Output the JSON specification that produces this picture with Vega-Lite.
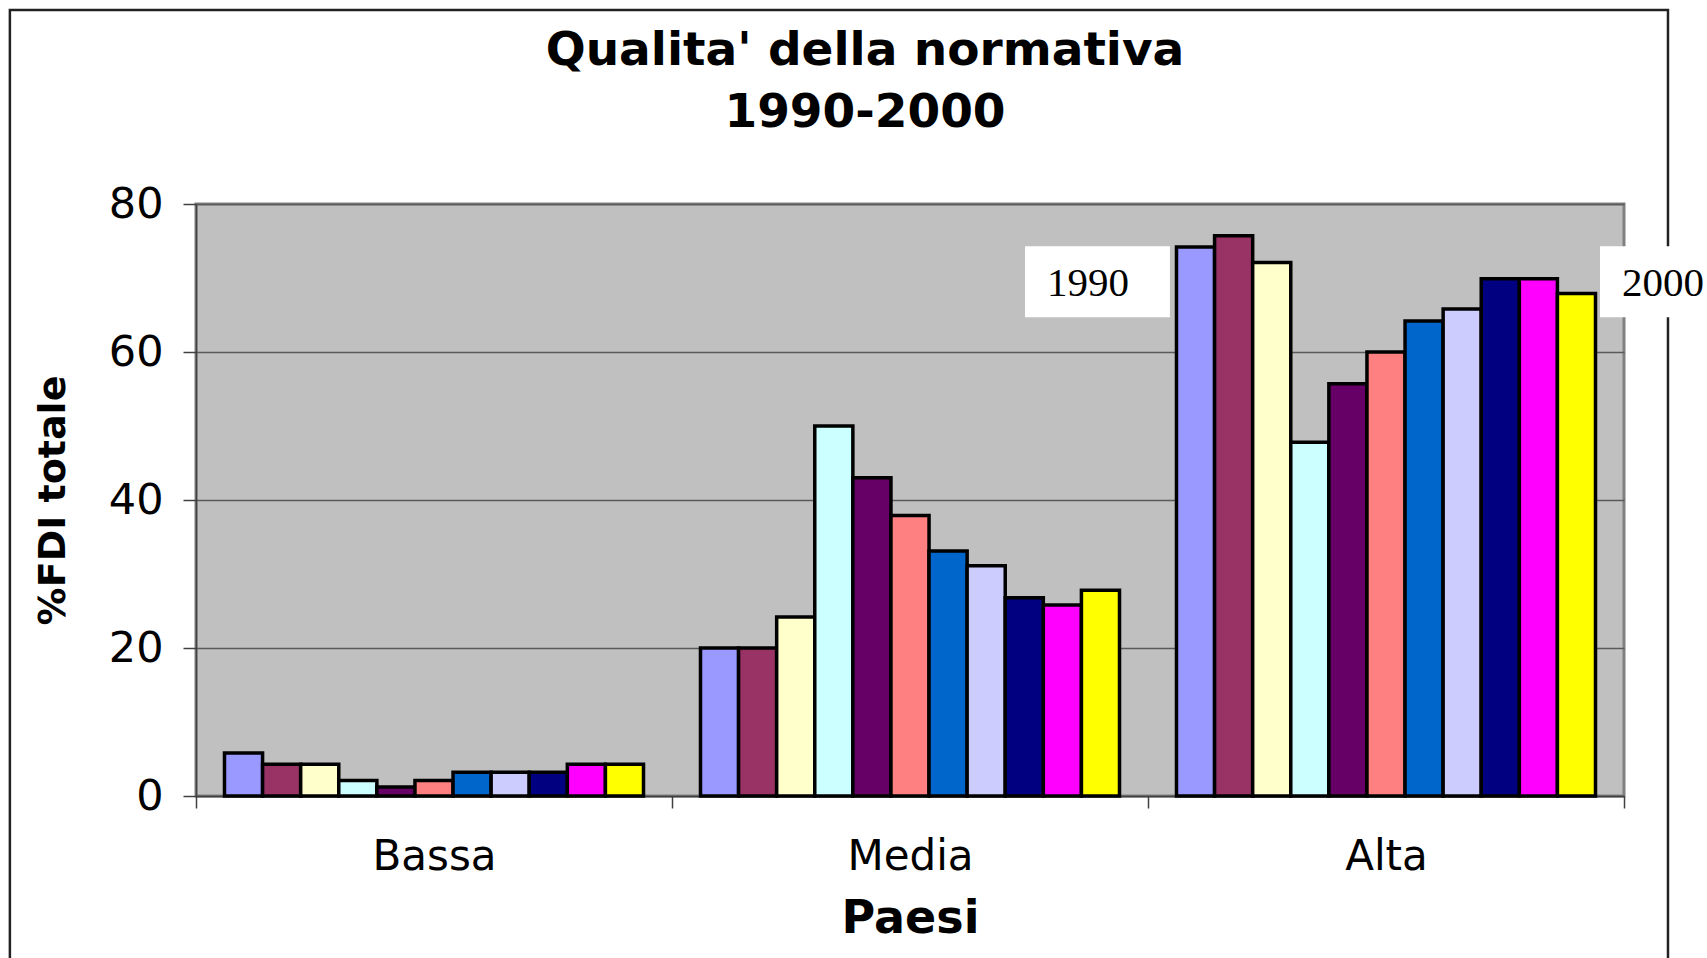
{
  "$schema": "https://vega.github.io/schema/vega-lite/v6.json",
  "width": 1428,
  "height": 592,
  "autosize": {"type": "none"},
  "padding": {"left": 196, "top": 204, "right": 83, "bottom": 162},
  "background": "white",
  "config": {
    "view": {"fill": "#C0C0C0", "stroke": "#808080", "strokeWidth": 3},
    "font": "DejaVu Sans"
  },
  "title": {
    "text": ["Qualita' della normativa", "1990-2000"],
    "font": "DejaVu Sans",
    "fontSize": 47,
    "fontWeight": "bold",
    "color": "black",
    "lineHeight": 62,
    "anchor": "middle",
    "frame": "group",
    "dx": -45,
    "offset": -128
  },
  "data": {
    "values": [
      {"paese": "Bassa", "anno": "1990", "valore": 5.8},
      {"paese": "Bassa", "anno": "1991", "valore": 4.3},
      {"paese": "Bassa", "anno": "1992", "valore": 4.3},
      {"paese": "Bassa", "anno": "1993", "valore": 2.1},
      {"paese": "Bassa", "anno": "1994", "valore": 1.2},
      {"paese": "Bassa", "anno": "1995", "valore": 2.1},
      {"paese": "Bassa", "anno": "1996", "valore": 3.2},
      {"paese": "Bassa", "anno": "1997", "valore": 3.2},
      {"paese": "Bassa", "anno": "1998", "valore": 3.2},
      {"paese": "Bassa", "anno": "1999", "valore": 4.3},
      {"paese": "Bassa", "anno": "2000", "valore": 4.3},
      {"paese": "Media", "anno": "1990", "valore": 20.0},
      {"paese": "Media", "anno": "1991", "valore": 20.0},
      {"paese": "Media", "anno": "1992", "valore": 24.2},
      {"paese": "Media", "anno": "1993", "valore": 50.0},
      {"paese": "Media", "anno": "1994", "valore": 43.0},
      {"paese": "Media", "anno": "1995", "valore": 37.9},
      {"paese": "Media", "anno": "1996", "valore": 33.1},
      {"paese": "Media", "anno": "1997", "valore": 31.1},
      {"paese": "Media", "anno": "1998", "valore": 26.8},
      {"paese": "Media", "anno": "1999", "valore": 25.8},
      {"paese": "Media", "anno": "2000", "valore": 27.8},
      {"paese": "Alta", "anno": "1990", "valore": 74.2},
      {"paese": "Alta", "anno": "1991", "valore": 75.7},
      {"paese": "Alta", "anno": "1992", "valore": 72.1},
      {"paese": "Alta", "anno": "1993", "valore": 47.8},
      {"paese": "Alta", "anno": "1994", "valore": 55.7},
      {"paese": "Alta", "anno": "1995", "valore": 60.0},
      {"paese": "Alta", "anno": "1996", "valore": 64.2},
      {"paese": "Alta", "anno": "1997", "valore": 65.8},
      {"paese": "Alta", "anno": "1998", "valore": 69.9},
      {"paese": "Alta", "anno": "1999", "valore": 69.9},
      {"paese": "Alta", "anno": "2000", "valore": 67.9}
    ]
  },
  "resolve": {"scale": {"x": "independent"}, "axis": {"x": "independent"}},
  "layer": [
    {
      "data": {"values": [{}]},
      "mark": {"type": "rect", "filled": false, "stroke": "#222222", "strokeWidth": 2.5, "clip": false},
      "encoding": {
        "x": {"datum": -0.391, "type": "quantitative", "scale": {"domain": [0, 3], "nice": false, "zero": false}, "axis": null},
        "x2": {"datum": 3.0924},
        "y": {"datum": 106.2, "type": "quantitative", "scale": {"domain": [0, 80], "nice": false}},
        "y2": {"datum": -30}
      }
    },
    {
      "mark": {"type": "bar", "stroke": "black", "strokeWidth": 3.5, "cornerRadius": 0},
      "encoding": {
        "x": {
          "field": "paese",
          "type": "nominal",
          "sort": ["Bassa", "Media", "Alta"],
          "scale": {"paddingInner": 0, "paddingOuter": 0},
          "axis": {
            "title": "Paesi",
            "titleFont": "DejaVu Sans",
            "titleFontSize": 46,
            "titleFontWeight": "bold",
            "titleColor": "black",
            "titlePadding": 19,
            "labelFont": "DejaVu Sans",
            "labelFontSize": 42,
            "labelColor": "black",
            "labelAngle": 0,
            "labelPadding": 28,
            "tickBand": "extent",
            "tickSize": 12,
            "tickColor": "#404040",
            "tickWidth": 1.5,
            "domainColor": "#404040",
            "domainWidth": 1.5,
            "grid": false
          }
        },
        "xOffset": {"field": "anno", "type": "ordinal", "scale": {"paddingInner": 0, "paddingOuter": 0.748}},
        "y": {
          "field": "valore",
          "type": "quantitative",
          "scale": {"domain": [0, 80], "nice": false},
          "axis": {
            "title": "%FDI totale",
            "titleFont": "DejaVu Sans",
            "titleFontSize": 38,
            "titleFontWeight": "bold",
            "titleColor": "black",
            "titlePadding": 36,
            "values": [0, 20, 40, 60, 80],
            "labelFont": "DejaVu Sans",
            "labelFontSize": 43,
            "labelColor": "black",
            "labelPadding": 20,
            "tickSize": 13,
            "tickColor": "#404040",
            "tickWidth": 1.5,
            "domainColor": "#404040",
            "domainWidth": 1.5,
            "grid": true,
            "gridColor": "#5a5a5a",
            "gridWidth": 1.5
          }
        },
        "color": {
          "field": "anno",
          "type": "ordinal",
          "scale": {
            "domain": ["1990", "1991", "1992", "1993", "1994", "1995", "1996", "1997", "1998", "1999", "2000"],
            "range": ["#9999FF", "#993366", "#FFFFCC", "#CCFFFF", "#660066", "#FF8080", "#0066CC", "#CCCCFF", "#000080", "#FF00FF", "#FFFF00"]
          },
          "legend": null
        }
      }
    },
    {
      "data": {"values": [{}]},
      "mark": {"type": "rect", "fill": "white", "stroke": null, "clip": false},
      "encoding": {
        "x": {"datum": 1.7416, "type": "quantitative", "scale": {"domain": [0, 3], "nice": false, "zero": false}, "axis": null},
        "x2": {"datum": 2.046},
        "y": {"datum": 74.3, "type": "quantitative", "scale": {"domain": [0, 80], "nice": false}},
        "y2": {"datum": 64.7}
      }
    },
    {
      "data": {"values": [{}]},
      "mark": {"type": "text", "text": "1990", "font": "Liberation Serif", "fontSize": 41, "color": "black", "align": "center", "baseline": "middle"},
      "encoding": {
        "x": {"datum": 1.874, "type": "quantitative", "scale": {"domain": [0, 3], "nice": false, "zero": false}, "axis": null},
        "y": {"datum": 69.2, "type": "quantitative", "scale": {"domain": [0, 80], "nice": false}}
      }
    },
    {
      "data": {"values": [{}]},
      "mark": {"type": "rect", "fill": "white", "stroke": null, "clip": false},
      "encoding": {
        "x": {"datum": 2.9496, "type": "quantitative", "scale": {"domain": [0, 3], "nice": false, "zero": false}, "axis": null},
        "x2": {"datum": 3.3},
        "y": {"datum": 74.3, "type": "quantitative", "scale": {"domain": [0, 80], "nice": false}},
        "y2": {"datum": 64.7}
      }
    },
    {
      "data": {"values": [{}]},
      "mark": {"type": "text", "text": "2000", "font": "Liberation Serif", "fontSize": 41, "color": "black", "align": "left", "baseline": "middle"},
      "encoding": {
        "x": {"datum": 2.996, "type": "quantitative", "scale": {"domain": [0, 3], "nice": false, "zero": false}, "axis": null},
        "y": {"datum": 69.2, "type": "quantitative", "scale": {"domain": [0, 80], "nice": false}}
      }
    }
  ]
}
